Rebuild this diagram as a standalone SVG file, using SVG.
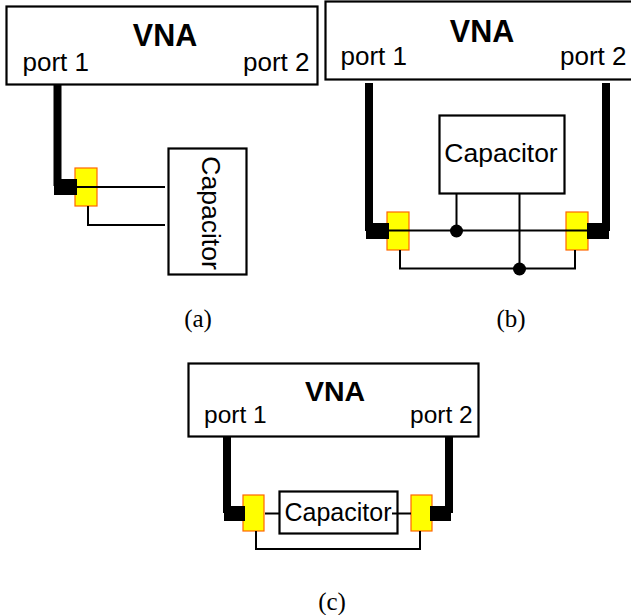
<svg xmlns="http://www.w3.org/2000/svg" width="631" height="615" viewBox="0 0 631 615">
<style>
.box{fill:#fff;stroke:#000;stroke-width:2.2}
.yel{fill:#ff0;stroke:#f60;stroke-width:1.2}
.thick{fill:none;stroke:#000;stroke-width:8}
.thin{fill:none;stroke:#000;stroke-width:2}
.t{font-family:"Liberation Sans",Arial,sans-serif;font-size:26px;fill:#000}
.t2{font-family:"Liberation Sans",Arial,sans-serif;font-size:24.500px;fill:#000}
.b{font-family:"Liberation Sans",Arial,sans-serif;font-size:30.500px;font-weight:bold;text-anchor:middle;fill:#000}
.b2{font-family:"Liberation Sans",Arial,sans-serif;font-size:28.500px;font-weight:bold;text-anchor:middle;fill:#000}
.c{font-family:"Liberation Sans",Arial,sans-serif;font-size:26.500px;text-anchor:middle;fill:#000}
.c2{font-family:"Liberation Sans",Arial,sans-serif;font-size:25px;text-anchor:middle;fill:#000}
.l{font-family:"Liberation Serif","Times New Roman",serif;font-size:25px;text-anchor:middle;fill:#000}
</style>
<rect width="631" height="615" fill="#fff"/>
<g id="vna-a"><rect class="box" x="6.5" y="6.500" width="311" height="78"/>
<text class="b" x="165" y="46">VNA</text><text class="t" x="22.500" y="71">port 1</text><text class="t" x="243" y="71">port 2</text></g>
<g id="vna-b"><rect class="box" x="325.5" y="1.500" width="310" height="78"/>
<text class="b" x="482" y="42">VNA</text><text class="t" x="340.500" y="65">port 1</text><text class="t" x="560" y="65">port 2</text></g>
<g id="vna-c"><rect class="box" x="188.5" y="363.500" width="290" height="73"/>
<text class="b2" x="335" y="401">VNA</text><text class="t2" x="204" y="423">port 1</text><text class="t2" x="410" y="423">port 2</text></g>
<g id="cap-a"><rect class="box" x="168.5" y="148.500" width="78" height="126"/>
<text class="c" transform="translate(202 213) rotate(90)">Capacitor</text></g>
<g id="cap-b"><rect class="box" x="439.5" y="115.500" width="125" height="78"/>
<text class="c" x="501" y="162">Capacitor</text></g>
<g id="cap-c"><rect class="box" x="279.5" y="491.500" width="118" height="42"/>
<text class="c2" x="338" y="521">Capacitor</text></g>
<g id="connectors">
<path class="thick" d="M57.500 85V186"/>
<path class="thick" d="M369 83V231M606 83V231"/>
<path class="thick" d="M227 436V513M449 436V513"/>
<rect id="adapter-a" class="yel" x="75" y="168" width="22" height="38"/>
<rect id="adapter-b1" class="yel" x="387" y="212" width="22" height="38"/>
<rect id="adapter-b2" class="yel" x="566" y="212" width="22" height="38"/>
<rect id="adapter-c1" class="yel" x="243" y="495" width="21" height="36"/>
<rect id="adapter-c2" class="yel" x="411" y="495" width="21" height="36"/>
<path d="M54 179H77V195H54ZM366 223H389V239H366ZM587 223H609V239H587ZM224 506H245V521H224ZM430 506H451V521H430Z" fill="#000"/>
<path class="thin" d="M77 187H165M88 206V225H165"/>
<path class="thin" d="M389 230.500H587M400 250V268.500H575V250M456.500 193V231M519.500 193V269"/>
<circle cx="456.500" cy="231" r="6.500"/><circle cx="519.500" cy="269" r="6.500"/>
<path class="thin" d="M265 513.500H279M392 513.500H411M256 531V549H420V531"/>
</g>
<text class="l" x="198" y="327">(a)</text>
<text class="l" x="511" y="327">(b)</text>
<text class="l" x="332" y="610">(c)</text>
</svg>
